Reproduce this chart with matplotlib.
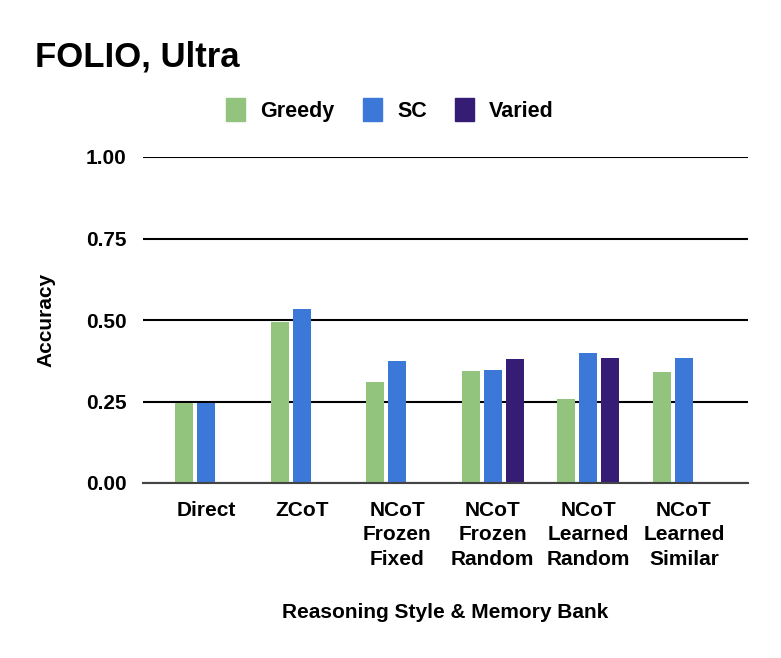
import matplotlib
matplotlib.use("Agg")
import matplotlib.pyplot as plt
import numpy as np
from matplotlib.patches import Patch

plt.rcParams['font.family'] = ['Liberation Sans', 'DejaVu Sans']
plt.rcParams['font.weight'] = 'bold'

categories = ["Direct", "ZCoT", "NCoT\nFrozen\nFixed", "NCoT\nFrozen\nRandom",
              "NCoT\nLearned\nRandom", "NCoT\nLearned\nSimilar"]
greedy = [0.245, 0.495, 0.31, 0.343, 0.258, 0.34]
sc = [0.245, 0.534, 0.375, 0.348, 0.40, 0.382]
varied = [np.nan, np.nan, np.nan, 0.381, 0.382, np.nan]
series_names = ["Greedy", "SC", "Varied"]
colors = ["#93c47d", "#3c78d8", "#351c75"]

fig = plt.figure(figsize=(7.81, 6.58), dpi=100)
ax = fig.add_axes([143/781, 1-483/658, (748-143)/781, (483-157)/658])

x = np.arange(len(categories))
w = 0.19
offs = [-0.23, 0.0, 0.23]
for vals, off, c in zip([greedy, sc, varied], offs, colors):
    ax.bar(x + off, vals, width=w, color=c, zorder=3)

ax.set_xlim(-0.66, 5.67)
ax.set_ylim(0, 1.0)
ax.set_yticks([0, 0.25, 0.5, 0.75, 1.0])
ax.set_yticklabels(["0.00", "0.25", "0.50", "0.75", "1.00"])
ax.grid(axis='y', color='black', linewidth=1.5, zorder=0)
ax.set_axisbelow(True)
for s in ['top', 'right', 'left']:
    ax.spines[s].set_visible(False)
ax.spines['bottom'].set_color('#444444')
ax.spines['bottom'].set_linewidth(1.5)
ax.spines['bottom'].set_zorder(4)
ax.tick_params(axis='both', length=0, labelsize=15)
ax.tick_params(axis='y', pad=12)
ax.tick_params(axis='x', pad=13)
ax.set_xticks(x)
ax.set_xticklabels(categories, linespacing=1.35)
ax.set_ylabel("Accuracy", fontsize=15, fontweight='bold')
ax.yaxis.set_label_coords(-(143-55)/605, 0.5)
ax.set_xlabel("Reasoning Style & Memory Bank", fontsize=15, fontweight='bold')
ax.xaxis.set_label_coords(0.5, -(603-483)/326)

fig.text(35/781, 1-57/658, "FOLIO, Ultra", fontsize=25, fontweight='bold', va='center', ha='left')

handles = [Patch(facecolor=c, edgecolor=c) for c in colors]
fig.legend(handles, series_names, loc='center', bbox_to_anchor=(390/781, 1-110/658),
           ncol=3, frameon=False, fontsize=15.5, handlelength=0.9, handleheight=1.3,
           columnspacing=1.3, handletextpad=0.7)

fig.savefig("out.png", dpi=100)
